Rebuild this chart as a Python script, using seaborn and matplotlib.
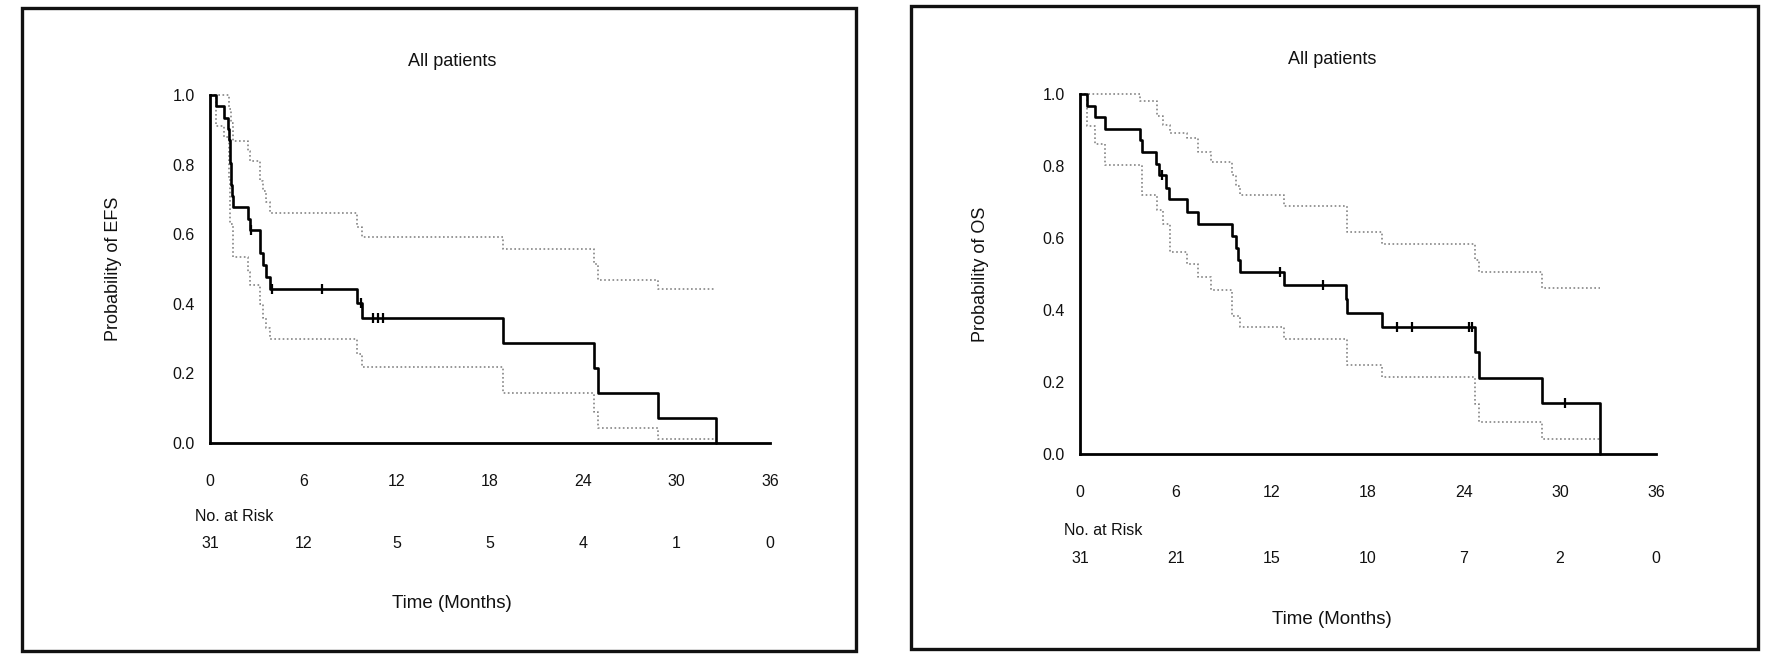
# plot.py
# Two Kaplan-Meier panels (EFS and OS, all patients) with dotted 95% CI,
# censor ticks and a "No. at Risk" row under each x axis.

import matplotlib
matplotlib.use("Agg")
import matplotlib.pyplot as plt
import matplotlib.transforms as mtransforms
from matplotlib.patches import Rectangle
import seaborn as sns

# ── Data ────────────────────────────────────────────────────────────────────
MONTH_TICKS = [0, 6, 12, 18, 24, 30, 36]
PROB_TICKS = [0.0, 0.2, 0.4, 0.6, 0.8, 1.0]
PROB_LABELS = ["0.0", "0.2", "0.4", "0.6", "0.8", "1.0"]

# EFS: step curve (steps-post)
efs_time = [0, 0.39, 0.9, 1.18, 1.22, 1.26, 1.3, 1.34, 1.38, 1.42, 1.46,
            2.47, 2.58, 3.23, 3.40, 3.61, 3.83, 9.46, 9.78, 18.86, 24.69,
            24.95, 28.8, 32.5]
efs_surv = [1.0, 0.968, 0.935, 0.903, 0.871, 0.839, 0.806, 0.774, 0.742,
            0.710, 0.677, 0.645, 0.613, 0.545, 0.511, 0.477, 0.443, 0.403,
            0.358, 0.286, 0.215, 0.143, 0.072, 0.0]
efs_cens_time = [2.65, 3.98, 7.2, 9.7, 10.5, 10.8, 11.1]
efs_cens_surv = [0.613, 0.443, 0.443, 0.403, 0.358, 0.358, 0.358]
efs_up_time = [0, 1.25, 1.35, 1.46, 2.47, 2.58, 3.23, 3.40, 3.61, 3.83,
               9.46, 9.78, 18.86, 24.69, 24.95, 28.8, 32.5]
efs_up = [1.0, 0.96, 0.92, 0.869, 0.84, 0.811, 0.754, 0.725, 0.692, 0.66,
          0.62, 0.591, 0.557, 0.515, 0.468, 0.442, 0.442]
efs_lo_time = [0, 0.39, 0.9, 1.2, 1.3, 1.46, 2.47, 2.58, 3.23, 3.40, 3.61,
               3.83, 9.46, 9.78, 18.86, 24.69, 24.95, 28.8, 32.5]
efs_lo = [1.0, 0.91, 0.88, 0.76, 0.63, 0.534, 0.49, 0.455, 0.40, 0.36,
          0.33, 0.299, 0.256, 0.219, 0.145, 0.09, 0.044, 0.011, 0.011]
efs_at_risk = [31, 12, 5, 5, 4, 1, 0]

# OS: step curve (steps-post)
os_time = [0, 0.46, 0.92, 1.56, 3.75, 3.85, 4.73, 4.94, 5.38, 5.58, 6.67,
           7.4, 9.52, 9.73, 9.85, 10.0, 12.75, 16.6, 16.7, 18.9, 24.69,
           24.96, 28.85, 32.5]
os_surv = [1.0, 0.968, 0.935, 0.903, 0.871, 0.839, 0.806, 0.774, 0.740,
           0.707, 0.673, 0.640, 0.606, 0.572, 0.539, 0.505, 0.469, 0.430,
           0.391, 0.352, 0.282, 0.211, 0.141, 0.0]
os_cens_time = [5.1, 12.5, 15.2, 19.83, 20.73, 24.3, 24.5, 30.3]
os_cens_surv = [0.774, 0.505, 0.469, 0.352, 0.352, 0.352, 0.352, 0.141]
os_up_time = [0, 3.75, 4.8, 5.2, 5.6, 6.7, 7.4, 8.2, 9.52, 9.73, 10.0,
              12.75, 16.7, 18.9, 24.69, 24.96, 28.85, 32.5]
os_up = [1.0, 0.98, 0.94, 0.915, 0.893, 0.877, 0.838, 0.81, 0.775, 0.745,
         0.72, 0.689, 0.617, 0.583, 0.539, 0.506, 0.46, 0.46]
os_lo_time = [0, 0.46, 0.92, 1.56, 3.85, 4.8, 5.2, 5.6, 6.7, 7.4, 8.2,
              9.52, 10.0, 12.75, 16.7, 18.9, 24.69, 24.96, 28.85, 32.5]
os_lo = [1.0, 0.91, 0.86, 0.803, 0.72, 0.678, 0.64, 0.562, 0.529, 0.492,
         0.455, 0.383, 0.353, 0.32, 0.246, 0.2136, 0.14, 0.088, 0.042, 0.042]
os_at_risk = [31, 21, 15, 10, 7, 2, 0]

# ── Style ───────────────────────────────────────────────────────────────────
sns.set_theme(style="white")
plt.rcParams["font.family"] = ["Liberation Sans Narrow", "Liberation Sans", "DejaVu Sans"]

FIG_W, FIG_H = 1767, 664
fig = plt.figure(figsize=(FIG_W / 100, FIG_H / 100), dpi=100)


def px_rect(x0, y0, x1, y1):
    """Figure-fraction rect from pixel box (top-left origin)."""
    return [x0 / FIG_W, 1 - y1 / FIG_H, (x1 - x0) / FIG_W, (y1 - y0) / FIG_H]


def km_panel(ax, t, s, ct, cs, ut, uv, lt, lv, at_risk, ylabel, title_x):
    # confidence limits
    for xt, yv in ((ut, uv), (lt, lv)):
        sns.lineplot(x=xt, y=yv, ax=ax, drawstyle="steps-post", estimator=None,
                     sort=False, color="#858585", linewidth=1.2,
                     linestyle=(0, (1, 1.5)), clip_on=False)
    # survival estimate
    sns.lineplot(x=t, y=s, ax=ax, drawstyle="steps-post", estimator=None,
                 sort=False, color="black", linewidth=1.9, clip_on=False)
    ax.plot(ct, cs, linestyle="none", marker="|", markersize=7,
            markeredgewidth=1.6, color="black", clip_on=False)

    ax.set_xlim(0, 36)
    ax.set_ylim(0, 1)
    ax.set_xticks(MONTH_TICKS)
    ax.set_xticklabels([str(m) for m in MONTH_TICKS])
    ax.set_yticks(PROB_TICKS)
    ax.set_yticklabels(PROB_LABELS)
    sns.despine(ax=ax)
    for side in ("left", "bottom"):
        ax.spines[side].set_linewidth(2.0)
        ax.spines[side].set_color("black")
    ax.tick_params(axis="x", direction="out", length=6, width=1.6,
                   pad=16, labelsize=11.5, colors="#111111")
    ax.tick_params(axis="y", direction="out", length=6, width=1.6,
                   pad=5, labelsize=11.5, colors="#111111")
    ax.set_xlabel("")
    ax.set_ylabel(ylabel, fontsize=13, color="#111111")
    ax.yaxis.set_label_coords(-0.158, 0.5)

    ax.text(title_x, 1.095, "All patients", transform=ax.transAxes,
            ha="center", va="center", fontsize=13, color="#111111")
    ax.text(-0.027, -0.212, "No. at Risk", transform=ax.transAxes,
            ha="left", va="center", fontsize=11.5, color="#111111")
    blend = mtransforms.blended_transform_factory(ax.transData, ax.transAxes)
    for m, n in zip(MONTH_TICKS, at_risk):
        ax.text(m, -0.29, str(n), transform=blend, ha="center", va="center",
                fontsize=11.5, color="#111111")
    ax.text(title_x, -0.46, "Time (Months)", transform=ax.transAxes,
            ha="center", va="center", fontsize=13.5, color="#111111")


# left panel
fig.patches.append(Rectangle((22 / FIG_W, 1 - 651 / FIG_H), (856 - 22) / FIG_W,
                             (651 - 8) / FIG_H, transform=fig.transFigure,
                             fill=False, edgecolor="#111111", linewidth=2.4))
ax1 = fig.add_axes(px_rect(210, 95, 770, 443))
km_panel(ax1, efs_time, efs_surv, efs_cens_time, efs_cens_surv,
         efs_up_time, efs_up, efs_lo_time, efs_lo, efs_at_risk,
         "Probability of EFS", 0.432)

# right panel
fig.patches.append(Rectangle((911 / FIG_W, 1 - 649 / FIG_H), (1758 - 911) / FIG_W,
                             (649 - 6) / FIG_H, transform=fig.transFigure,
                             fill=False, edgecolor="#111111", linewidth=2.4))
ax2 = fig.add_axes(px_rect(1080, 94, 1656, 454))
km_panel(ax2, os_time, os_surv, os_cens_time, os_cens_surv,
         os_up_time, os_up, os_lo_time, os_lo, os_at_risk,
         "Probability of OS", 0.4375)

fig.savefig("out.png", dpi=100)
plt.close(fig)
